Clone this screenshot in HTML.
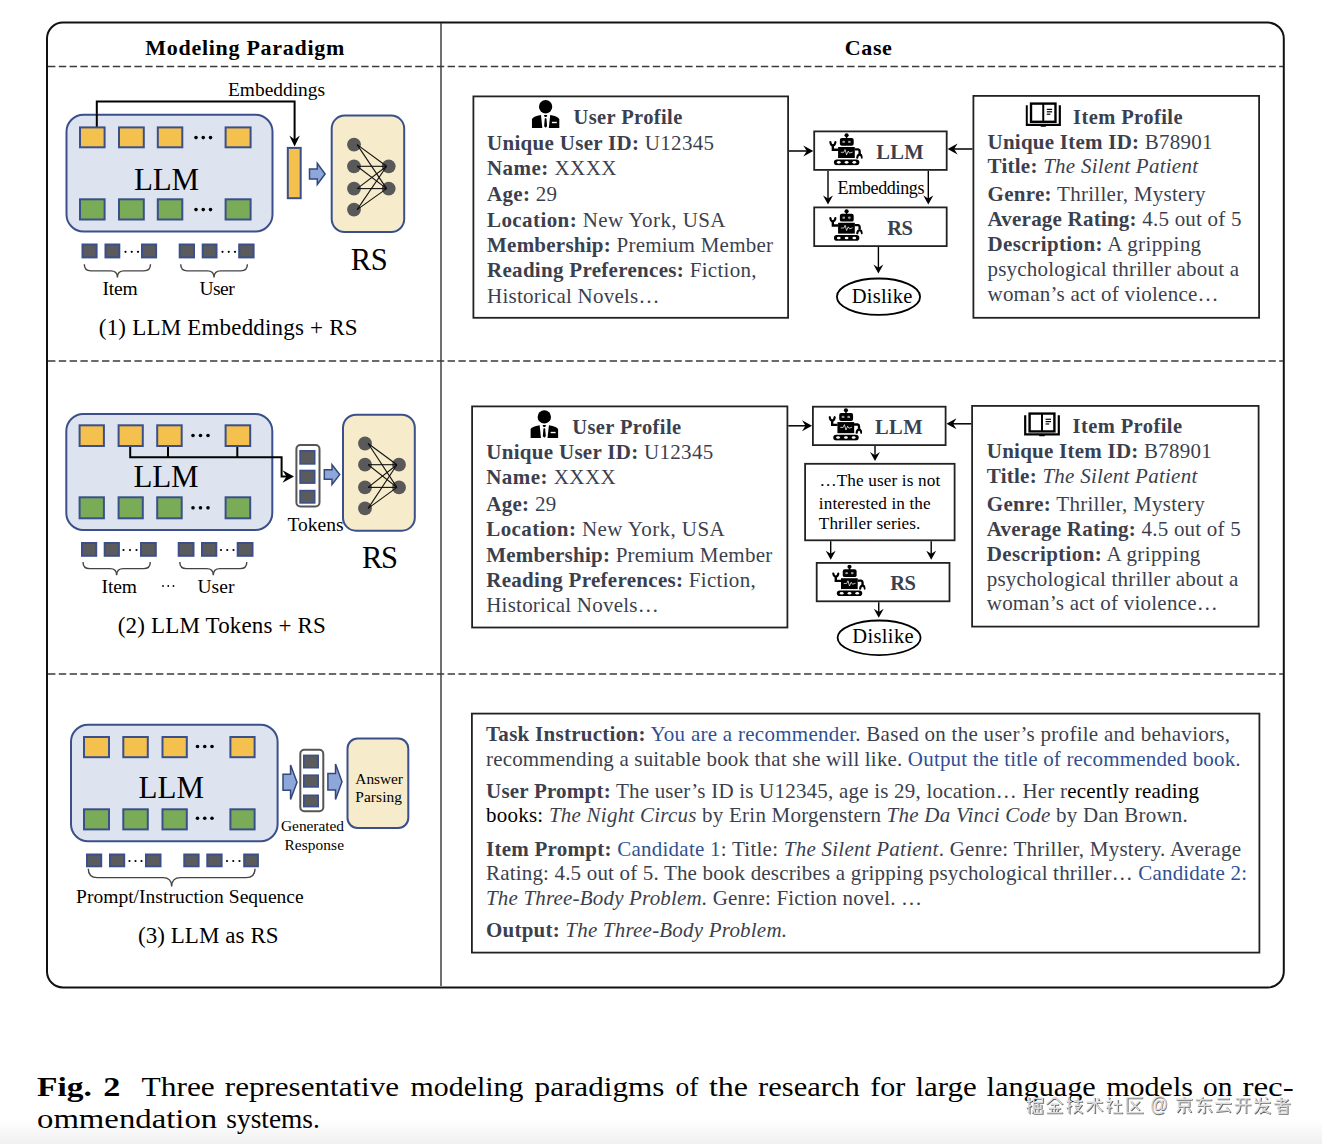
<!DOCTYPE html><html><head><meta charset="utf-8"><style>html,body{margin:0;padding:0;background:#fff;}svg{display:block}</style></head><body>
<svg width="1322" height="1144" viewBox="0 0 1322 1144">
<defs><linearGradient id="bg" x1="0" y1="0" x2="0" y2="1"><stop offset="0" stop-color="#fff"/><stop offset="0.45" stop-color="#f8f8f8"/><stop offset="1" stop-color="#f1f1f1"/></linearGradient></defs>
<rect x="0" y="0" width="1322" height="1144" fill="#fff"/>
<rect x="0" y="1120" width="1322" height="24" fill="url(#bg)"/>
<rect x="47" y="22.5" width="1236.8" height="965" rx="16" fill="none" stroke="#111" stroke-width="2"/>
<line x1="441" y1="23" x2="441" y2="986" stroke="#333" stroke-width="1.4"/>
<line x1="48" y1="66.5" x2="1283" y2="66.5" stroke="#3a3a3a" stroke-width="1.3" stroke-dasharray="7.4,3.4"/>
<line x1="48" y1="361" x2="1283" y2="361" stroke="#3a3a3a" stroke-width="1.3" stroke-dasharray="7.4,3.4"/>
<line x1="48" y1="674" x2="1283" y2="674" stroke="#3a3a3a" stroke-width="1.3" stroke-dasharray="7.4,3.4"/>
<text x="145.3" y="55" font-family="Liberation Serif" font-size="22" font-weight="bold" font-style="normal" fill="#000" textLength="199" lengthAdjust="spacing" >Modeling Paradigm</text>
<text x="844.8" y="54.5" font-family="Liberation Serif" font-size="22" font-weight="bold" font-style="normal" fill="#000" textLength="47" lengthAdjust="spacing" >Case</text>
<polyline points="96.8,127 96.8,101.6 294.6,101.6 294.6,140" fill="none" stroke="#000" stroke-width="2"/>
<polygon points="294.60,146.60 289.32,135.60 294.60,139.45 299.88,135.60" fill="#000"/>
<text x="228" y="96" font-family="Liberation Serif" font-size="19.4" font-weight="normal" font-style="normal" fill="#000" textLength="97" lengthAdjust="spacing" >Embeddings</text>
<rect x="66.50" y="114.80" width="206.00" height="116.70" rx="17" fill="#dde4ef" stroke="#3b508a" stroke-width="2" />
<line x1="96.8" y1="114" x2="96.8" y2="127" stroke="#000" stroke-width="2"/>
<rect x="80.00" y="127.40" width="24.60" height="19.90" rx="0" fill="#f4c04e" stroke="#3b508a" stroke-width="2" />
<rect x="119.00" y="127.40" width="24.80" height="19.90" rx="0" fill="#f4c04e" stroke="#3b508a" stroke-width="2" />
<rect x="157.80" y="127.40" width="24.50" height="19.90" rx="0" fill="#f4c04e" stroke="#3b508a" stroke-width="2" />
<rect x="225.60" y="127.40" width="25.00" height="19.90" rx="0" fill="#f4c04e" stroke="#3b508a" stroke-width="2" />
<rect x="80.00" y="199.30" width="24.60" height="20.20" rx="0" fill="#7aab57" stroke="#3b508a" stroke-width="2" />
<rect x="119.00" y="199.30" width="24.80" height="20.20" rx="0" fill="#7aab57" stroke="#3b508a" stroke-width="2" />
<rect x="157.80" y="199.30" width="24.50" height="20.20" rx="0" fill="#7aab57" stroke="#3b508a" stroke-width="2" />
<rect x="225.60" y="199.30" width="25.00" height="20.20" rx="0" fill="#7aab57" stroke="#3b508a" stroke-width="2" />
<circle cx="196.00" cy="137.6" r="1.8" fill="#000"/>
<circle cx="203.25" cy="137.6" r="1.8" fill="#000"/>
<circle cx="210.50" cy="137.6" r="1.8" fill="#000"/>
<circle cx="196.00" cy="209.6" r="1.8" fill="#000"/>
<circle cx="203.25" cy="209.6" r="1.8" fill="#000"/>
<circle cx="210.50" cy="209.6" r="1.8" fill="#000"/>
<text x="134" y="190" font-family="Liberation Serif" font-size="31" font-weight="normal" font-style="normal" fill="#000" textLength="65" lengthAdjust="spacing" >LLM</text>
<rect x="82.50" y="244.50" width="14.10" height="12.90" rx="0" fill="#5b5b5e" stroke="#3b508a" stroke-width="2" />
<rect x="105.50" y="244.50" width="13.80" height="12.90" rx="0" fill="#5b5b5e" stroke="#3b508a" stroke-width="2" />
<rect x="142.00" y="244.50" width="14.10" height="12.90" rx="0" fill="#5b5b5e" stroke="#3b508a" stroke-width="2" />
<rect x="179.70" y="244.50" width="14.30" height="12.90" rx="0" fill="#5b5b5e" stroke="#3b508a" stroke-width="2" />
<rect x="202.70" y="244.50" width="13.80" height="12.90" rx="0" fill="#5b5b5e" stroke="#3b508a" stroke-width="2" />
<rect x="239.20" y="244.50" width="14.40" height="12.90" rx="0" fill="#5b5b5e" stroke="#3b508a" stroke-width="2" />
<circle cx="125.50" cy="251.8" r="1.1" fill="#000"/>
<circle cx="131.75" cy="251.8" r="1.1" fill="#000"/>
<circle cx="138.00" cy="251.8" r="1.1" fill="#000"/>
<circle cx="222.50" cy="251.8" r="1.1" fill="#000"/>
<circle cx="228.75" cy="251.8" r="1.1" fill="#000"/>
<circle cx="235.00" cy="251.8" r="1.1" fill="#000"/>
<path d="M84.3,264.3 Q84.3,270.9 90.89999999999999,270.9 L110.80000000000001,270.9 Q117.4,270.9 117.4,277.5 Q117.4,270.9 124.0,270.9 L143.9,270.9 Q150.5,270.9 150.5,264.3" fill="none" stroke="#444" stroke-width="1.4"/>
<path d="M180.7,264.3 Q180.7,270.9 187.29999999999998,270.9 L207.45000000000002,270.9 Q214.05,270.9 214.05,277.5 Q214.05,270.9 220.65,270.9 L240.8,270.9 Q247.4,270.9 247.4,264.3" fill="none" stroke="#444" stroke-width="1.4"/>
<text x="102.5" y="294.7" font-family="Liberation Serif" font-size="19.5" font-weight="normal" font-style="normal" fill="#000" textLength="35.1" lengthAdjust="spacing" >Item</text>
<text x="199.4" y="294.7" font-family="Liberation Serif" font-size="19.5" font-weight="normal" font-style="normal" fill="#000" textLength="35.3" lengthAdjust="spacing" >User</text>
<rect x="287.80" y="147.90" width="12.90" height="50.30" rx="0" fill="#f4c04e" stroke="#3b508a" stroke-width="2" />
<path d="M309.5,168.886 L317.3,168.886 L317.3,163.4 L325.1,173.95 L317.3,184.5 L317.3,179.01399999999998 L309.5,179.01399999999998 Z" fill="#8ea7da" stroke="#34477a" stroke-width="1.5" stroke-linejoin="miter"/>
<rect x="331.70" y="115.60" width="72.50" height="116.40" rx="13" fill="#f6ebca" stroke="#3b508a" stroke-width="2" />
<circle cx="354" cy="144.6" r="6.9" fill="#595959"/>
<circle cx="354" cy="166.3" r="6.9" fill="#595959"/>
<circle cx="354" cy="188.6" r="6.9" fill="#595959"/>
<circle cx="354" cy="209.6" r="6.9" fill="#595959"/>
<circle cx="388.7" cy="166.3" r="6.9" fill="#595959"/>
<circle cx="388.7" cy="188.6" r="6.9" fill="#595959"/>
<line x1="357.105" y1="144.6" x2="386.63" y2="166.3" stroke="#111" stroke-width="1.1"/>
<line x1="357.105" y1="144.6" x2="386.63" y2="188.6" stroke="#111" stroke-width="1.1"/>
<line x1="357.105" y1="166.3" x2="386.63" y2="166.3" stroke="#111" stroke-width="1.1"/>
<line x1="357.105" y1="166.3" x2="386.63" y2="188.6" stroke="#111" stroke-width="1.1"/>
<line x1="357.105" y1="188.6" x2="386.63" y2="166.3" stroke="#111" stroke-width="1.1"/>
<line x1="357.105" y1="188.6" x2="386.63" y2="188.6" stroke="#111" stroke-width="1.1"/>
<line x1="357.105" y1="209.6" x2="386.63" y2="166.3" stroke="#111" stroke-width="1.1"/>
<line x1="357.105" y1="209.6" x2="386.63" y2="188.6" stroke="#111" stroke-width="1.1"/>
<text x="350.8" y="270.2" font-family="Liberation Serif" font-size="30.5" font-weight="normal" font-style="normal" fill="#000" textLength="36.8" lengthAdjust="spacing" >RS</text>
<text x="98.8" y="335" font-family="Liberation Serif" font-size="23" font-weight="normal" font-style="normal" fill="#000" textLength="258.7" lengthAdjust="spacing" >(1) LLM Embeddings + RS</text>
<rect x="66.30" y="414.00" width="206.00" height="116.00" rx="17" fill="#dde4ef" stroke="#3b508a" stroke-width="2" />
<rect x="79.60" y="425.30" width="24.30" height="20.70" rx="0" fill="#f4c04e" stroke="#3b508a" stroke-width="2" />
<rect x="118.60" y="425.30" width="24.20" height="20.70" rx="0" fill="#f4c04e" stroke="#3b508a" stroke-width="2" />
<rect x="157.20" y="425.30" width="24.50" height="20.70" rx="0" fill="#f4c04e" stroke="#3b508a" stroke-width="2" />
<rect x="225.60" y="425.30" width="24.60" height="20.70" rx="0" fill="#f4c04e" stroke="#3b508a" stroke-width="2" />
<rect x="79.60" y="497.30" width="24.30" height="21.00" rx="0" fill="#7aab57" stroke="#3b508a" stroke-width="2" />
<rect x="118.60" y="497.30" width="24.20" height="21.00" rx="0" fill="#7aab57" stroke="#3b508a" stroke-width="2" />
<rect x="157.20" y="497.30" width="24.50" height="21.00" rx="0" fill="#7aab57" stroke="#3b508a" stroke-width="2" />
<rect x="225.60" y="497.30" width="24.60" height="21.00" rx="0" fill="#7aab57" stroke="#3b508a" stroke-width="2" />
<circle cx="193.00" cy="435.5" r="1.8" fill="#000"/>
<circle cx="200.50" cy="435.5" r="1.8" fill="#000"/>
<circle cx="208.00" cy="435.5" r="1.8" fill="#000"/>
<circle cx="193.00" cy="507.8" r="1.8" fill="#000"/>
<circle cx="200.50" cy="507.8" r="1.8" fill="#000"/>
<circle cx="208.00" cy="507.8" r="1.8" fill="#000"/>
<text x="133.5" y="487.4" font-family="Liberation Serif" font-size="31" font-weight="normal" font-style="normal" fill="#000" textLength="65" lengthAdjust="spacing" >LLM</text>
<polyline points="130.2,447 130.2,457.3 281.6,457.3 281.6,476.5 287,476.5" fill="none" stroke="#000" stroke-width="2"/>
<line x1="168" y1="447" x2="168" y2="457.3" stroke="#000" stroke-width="2"/>
<line x1="237.3" y1="447" x2="237.3" y2="457.3" stroke="#000" stroke-width="2"/>
<polygon points="294.00,476.50 282.50,470.18 286.52,476.50 282.50,482.82" fill="#000"/>
<rect x="296.40" y="445.00" width="23.10" height="61.50" rx="4" fill="#fff" stroke="#555" stroke-width="2" />
<rect x="300.10" y="450.80" width="14.60" height="13.10" rx="0" fill="#5b5b5e" stroke="#3b508a" stroke-width="1.6" />
<rect x="300.10" y="470.50" width="14.60" height="12.60" rx="0" fill="#5b5b5e" stroke="#3b508a" stroke-width="1.6" />
<rect x="300.10" y="490.60" width="14.60" height="12.30" rx="0" fill="#5b5b5e" stroke="#3b508a" stroke-width="1.6" />
<path d="M324.3,469.848 L332.0,469.848 L332.0,464.7 L339.7,474.6 L332.0,484.5 L332.0,479.35200000000003 L324.3,479.35200000000003 Z" fill="#8ea7da" stroke="#34477a" stroke-width="1.5" stroke-linejoin="miter"/>
<rect x="343.00" y="414.70" width="71.80" height="116.00" rx="13" fill="#f6ebca" stroke="#3b508a" stroke-width="2" />
<circle cx="365" cy="443.5" r="6.9" fill="#595959"/>
<circle cx="365" cy="464.7" r="6.9" fill="#595959"/>
<circle cx="365" cy="487.4" r="6.9" fill="#595959"/>
<circle cx="365" cy="508.4" r="6.9" fill="#595959"/>
<circle cx="399" cy="464.7" r="6.9" fill="#595959"/>
<circle cx="399" cy="487.4" r="6.9" fill="#595959"/>
<line x1="368.105" y1="443.5" x2="396.93" y2="464.7" stroke="#111" stroke-width="1.1"/>
<line x1="368.105" y1="443.5" x2="396.93" y2="487.4" stroke="#111" stroke-width="1.1"/>
<line x1="368.105" y1="464.7" x2="396.93" y2="464.7" stroke="#111" stroke-width="1.1"/>
<line x1="368.105" y1="464.7" x2="396.93" y2="487.4" stroke="#111" stroke-width="1.1"/>
<line x1="368.105" y1="487.4" x2="396.93" y2="464.7" stroke="#111" stroke-width="1.1"/>
<line x1="368.105" y1="487.4" x2="396.93" y2="487.4" stroke="#111" stroke-width="1.1"/>
<line x1="368.105" y1="508.4" x2="396.93" y2="464.7" stroke="#111" stroke-width="1.1"/>
<line x1="368.105" y1="508.4" x2="396.93" y2="487.4" stroke="#111" stroke-width="1.1"/>
<text x="287.5" y="531" font-family="Liberation Serif" font-size="19.5" font-weight="normal" font-style="normal" fill="#000" textLength="56" lengthAdjust="spacing" >Tokens</text>
<rect x="82.00" y="543.00" width="14.20" height="12.80" rx="0" fill="#5b5b5e" stroke="#3b508a" stroke-width="2" />
<rect x="104.70" y="543.00" width="14.20" height="12.80" rx="0" fill="#5b5b5e" stroke="#3b508a" stroke-width="2" />
<rect x="141.00" y="543.00" width="14.80" height="12.80" rx="0" fill="#5b5b5e" stroke="#3b508a" stroke-width="2" />
<rect x="178.70" y="543.00" width="14.80" height="12.80" rx="0" fill="#5b5b5e" stroke="#3b508a" stroke-width="2" />
<rect x="202.00" y="543.00" width="14.30" height="12.80" rx="0" fill="#5b5b5e" stroke="#3b508a" stroke-width="2" />
<rect x="237.70" y="543.00" width="14.80" height="12.80" rx="0" fill="#5b5b5e" stroke="#3b508a" stroke-width="2" />
<circle cx="123.50" cy="550" r="1.1" fill="#000"/>
<circle cx="130.00" cy="550" r="1.1" fill="#000"/>
<circle cx="136.50" cy="550" r="1.1" fill="#000"/>
<circle cx="221.00" cy="550" r="1.1" fill="#000"/>
<circle cx="227.25" cy="550" r="1.1" fill="#000"/>
<circle cx="233.50" cy="550" r="1.1" fill="#000"/>
<path d="M83,562 Q83,568.65 89.64999999999998,568.65 L110.00000000000003,568.65 Q116.65,568.65 116.65,575.3 Q116.65,568.65 123.29999999999998,568.65 L143.65000000000003,568.65 Q150.3,568.65 150.3,562" fill="none" stroke="#444" stroke-width="1.4"/>
<path d="M179.8,562 Q179.8,568.65 186.45,568.65 L206.65000000000003,568.65 Q213.3,568.65 213.3,575.3 Q213.3,568.65 219.95,568.65 L240.15000000000003,568.65 Q246.8,568.65 246.8,562" fill="none" stroke="#444" stroke-width="1.4"/>
<text x="101.6" y="593" font-family="Liberation Serif" font-size="19.5" font-weight="normal" font-style="normal" fill="#000" textLength="35.4" lengthAdjust="spacing" >Item</text>
<circle cx="163.00" cy="586" r="0.9" fill="#000"/>
<circle cx="168.25" cy="586" r="0.9" fill="#000"/>
<circle cx="173.50" cy="586" r="0.9" fill="#000"/>
<text x="197.5" y="593" font-family="Liberation Serif" font-size="19.5" font-weight="normal" font-style="normal" fill="#000" textLength="36.9" lengthAdjust="spacing" >User</text>
<text x="362" y="568" font-family="Liberation Serif" font-size="30.5" font-weight="normal" font-style="normal" fill="#000" textLength="36" lengthAdjust="spacing" >RS</text>
<text x="117.8" y="633" font-family="Liberation Serif" font-size="23" font-weight="normal" font-style="normal" fill="#000" textLength="208" lengthAdjust="spacing" >(2) LLM Tokens + RS</text>
<rect x="71.00" y="724.70" width="206.60" height="116.50" rx="17" fill="#dde4ef" stroke="#3b508a" stroke-width="2" />
<rect x="84.00" y="737.00" width="25.00" height="20.20" rx="0" fill="#f4c04e" stroke="#3b508a" stroke-width="2" />
<rect x="123.30" y="737.00" width="24.50" height="20.20" rx="0" fill="#f4c04e" stroke="#3b508a" stroke-width="2" />
<rect x="162.50" y="737.00" width="24.30" height="20.20" rx="0" fill="#f4c04e" stroke="#3b508a" stroke-width="2" />
<rect x="230.40" y="737.00" width="24.20" height="20.20" rx="0" fill="#f4c04e" stroke="#3b508a" stroke-width="2" />
<rect x="84.00" y="809.30" width="25.00" height="20.10" rx="0" fill="#7aab57" stroke="#3b508a" stroke-width="2" />
<rect x="123.30" y="809.30" width="24.50" height="20.10" rx="0" fill="#7aab57" stroke="#3b508a" stroke-width="2" />
<rect x="162.50" y="809.30" width="24.30" height="20.10" rx="0" fill="#7aab57" stroke="#3b508a" stroke-width="2" />
<rect x="230.40" y="809.30" width="24.20" height="20.10" rx="0" fill="#7aab57" stroke="#3b508a" stroke-width="2" />
<circle cx="197.50" cy="746.5" r="1.8" fill="#000"/>
<circle cx="204.75" cy="746.5" r="1.8" fill="#000"/>
<circle cx="212.00" cy="746.5" r="1.8" fill="#000"/>
<circle cx="197.50" cy="818.3" r="1.8" fill="#000"/>
<circle cx="204.75" cy="818.3" r="1.8" fill="#000"/>
<circle cx="212.00" cy="818.3" r="1.8" fill="#000"/>
<text x="138.5" y="798" font-family="Liberation Serif" font-size="31" font-weight="normal" font-style="normal" fill="#000" textLength="65.5" lengthAdjust="spacing" >LLM</text>
<rect x="87.00" y="854.50" width="14.20" height="11.80" rx="0" fill="#5b5b5e" stroke="#3b508a" stroke-width="2" />
<rect x="110.00" y="854.50" width="14.20" height="11.80" rx="0" fill="#5b5b5e" stroke="#3b508a" stroke-width="2" />
<rect x="146.00" y="854.50" width="14.50" height="11.80" rx="0" fill="#5b5b5e" stroke="#3b508a" stroke-width="2" />
<rect x="184.30" y="854.50" width="14.30" height="11.80" rx="0" fill="#5b5b5e" stroke="#3b508a" stroke-width="2" />
<rect x="207.30" y="854.50" width="14.30" height="11.80" rx="0" fill="#5b5b5e" stroke="#3b508a" stroke-width="2" />
<rect x="244.20" y="854.50" width="13.70" height="11.80" rx="0" fill="#5b5b5e" stroke="#3b508a" stroke-width="2" />
<circle cx="129.50" cy="861" r="1.1" fill="#000"/>
<circle cx="135.50" cy="861" r="1.1" fill="#000"/>
<circle cx="141.50" cy="861" r="1.1" fill="#000"/>
<circle cx="227.00" cy="861" r="1.1" fill="#000"/>
<circle cx="233.25" cy="861" r="1.1" fill="#000"/>
<circle cx="239.50" cy="861" r="1.1" fill="#000"/>
<path d="M88.3,868.8 Q88.3,877.65 97.15000000000002,877.65 L162.79999999999998,877.65 Q171.65,877.65 171.65,886.5 Q171.65,877.65 180.50000000000003,877.65 L246.14999999999998,877.65 Q255,877.65 255,868.8" fill="none" stroke="#444" stroke-width="1.4"/>
<text x="76" y="902.7" font-family="Liberation Serif" font-size="19.5" font-weight="normal" font-style="normal" fill="#000" textLength="227.7" lengthAdjust="spacing" >Prompt/Instruction Sequence</text>
<text x="137.9" y="942.5" font-family="Liberation Serif" font-size="23" font-weight="normal" font-style="normal" fill="#000" textLength="140.7" lengthAdjust="spacing" >(3) LLM as RS</text>
<path d="M283,774.1425 L290.56,774.1425 L290.56,765 L297,782.25 L290.56,799.5 L290.56,790.3575 L283,790.3575 Z" fill="#8ea7da" stroke="#34477a" stroke-width="1.5" stroke-linejoin="miter"/>
<rect x="300.30" y="749.70" width="23.00" height="61.50" rx="4" fill="#fff" stroke="#555" stroke-width="2" />
<rect x="303.80" y="755.40" width="14.40" height="12.30" rx="0" fill="#5b5b5e" stroke="#3b508a" stroke-width="1.6" />
<rect x="303.80" y="775.20" width="14.40" height="11.70" rx="0" fill="#5b5b5e" stroke="#3b508a" stroke-width="1.6" />
<rect x="303.80" y="795.30" width="14.40" height="11.30" rx="0" fill="#5b5b5e" stroke="#3b508a" stroke-width="1.6" />
<path d="M327.9,773.4075 L335.514,773.4075 L335.514,764 L342,781.75 L335.514,799.5 L335.514,790.0925 L327.9,790.0925 Z" fill="#8ea7da" stroke="#34477a" stroke-width="1.5" stroke-linejoin="miter"/>
<rect x="347.50" y="738.50" width="60.80" height="89.50" rx="10" fill="#f6ebca" stroke="#3b508a" stroke-width="2" />
<text x="355.3" y="783.8" font-family="Liberation Serif" font-size="15.4" font-weight="normal" font-style="normal" fill="#000" textLength="47.7" lengthAdjust="spacing" >Answer</text>
<text x="355.3" y="802.4" font-family="Liberation Serif" font-size="15.4" font-weight="normal" font-style="normal" fill="#000" textLength="46.7" lengthAdjust="spacing" >Parsing</text>
<text x="281" y="831" font-family="Liberation Serif" font-size="15.4" font-weight="normal" font-style="normal" fill="#000" textLength="63" lengthAdjust="spacing" >Generated</text>
<text x="284.5" y="849.6" font-family="Liberation Serif" font-size="15.4" font-weight="normal" font-style="normal" fill="#000" textLength="59.5" lengthAdjust="spacing" >Response</text>
<rect x="473.40" y="96.40" width="314.70" height="221.40" rx="0" fill="#fff" stroke="#222" stroke-width="1.8" />
<svg x="531.8" y="99.8" width="28.0" height="28.200000000000003" viewBox="0 0 28 28.2" preserveAspectRatio="none"><circle cx="13.8" cy="6.95" r="6.65" fill="#000"/><path d="M9.2,15.3 L10.5,28.2 L0,28.2 L0,19.7 Q1,16.4 9.2,15.3 Z" fill="#000"/><path d="M18.4,15.3 L17,28.2 L27.6,28.2 L27.6,19.7 Q26.6,16.4 18.4,15.3 Z" fill="#000"/><path d="M12.1,15.2 L15.5,15.2 L14.7,17.1 L12.9,17.1 Z" fill="#000"/><path d="M13,18.4 L14.6,18.4 L15.3,26.4 L13.8,28 L12.3,26.4 Z" fill="#000"/><rect x="20.1" y="22" width="4.9" height="1.4" fill="#fff"/></svg>
<text x="573.5" y="123.5" font-family="Liberation Serif" font-size="20.5" font-weight="bold" font-style="normal" fill="#3b3f4e" textLength="108.8" lengthAdjust="spacing" >User Profile</text>
<text x="487" y="150" font-family="Liberation Serif" font-size="21" fill="#3b3f4e" textLength="227" lengthAdjust="spacing"><tspan font-weight="bold">Unique User ID:</tspan> U12345</text>
<text x="487" y="175.2" font-family="Liberation Serif" font-size="21" fill="#3b3f4e" textLength="129.5" lengthAdjust="spacing"><tspan font-weight="bold">Name:</tspan> XXXX</text>
<text x="487" y="201" font-family="Liberation Serif" font-size="21" fill="#3b3f4e" textLength="70" lengthAdjust="spacing"><tspan font-weight="bold">Age:</tspan> 29</text>
<text x="487" y="226.6" font-family="Liberation Serif" font-size="21" fill="#3b3f4e" textLength="238.5" lengthAdjust="spacing"><tspan font-weight="bold">Location:</tspan> New York, USA</text>
<text x="487" y="252" font-family="Liberation Serif" font-size="21" fill="#3b3f4e" textLength="286" lengthAdjust="spacing"><tspan font-weight="bold">Membership:</tspan> Premium Member</text>
<text x="487" y="277.4" font-family="Liberation Serif" font-size="21" fill="#3b3f4e" textLength="269.5" lengthAdjust="spacing"><tspan font-weight="bold">Reading Preferences:</tspan> Fiction,</text>
<text x="487" y="302.6" font-family="Liberation Serif" font-size="21" fill="#3b3f4e" textLength="172.5" lengthAdjust="spacing">Historical Novels…</text>
<rect x="973.40" y="95.90" width="285.70" height="221.90" rx="0" fill="#fff" stroke="#222" stroke-width="1.8" />
<svg x="1025.5" y="102" width="35.5" height="26" viewBox="0 0 36 26" preserveAspectRatio="none"><path d="M1.2,3.2 L1.2,22.8 L34.8,22.8 L34.8,3.2" fill="none" stroke="#000" stroke-width="2.2"/><rect x="5.6" y="1.6" width="24.8" height="18.2" fill="none" stroke="#000" stroke-width="2.4"/><line x1="18" y1="1.6" x2="18" y2="19.8" stroke="#000" stroke-width="2"/><path d="M14.5,22.8 L15.5,24.8 L20.5,24.8 L21.5,22.8 Z" fill="#000"/><rect x="21.6" y="6.8" width="5.4" height="1.2" fill="#000"/><rect x="21.6" y="9.2" width="5.4" height="1.2" fill="#000"/><rect x="21.6" y="11.6" width="3.6" height="1.2" fill="#000"/></svg>
<text x="1073" y="123.75" font-family="Liberation Serif" font-size="20.5" font-weight="bold" font-style="normal" fill="#3b3f4e" textLength="109.5" lengthAdjust="spacing" >Item Profile</text>
<text x="987.5" y="148.75" font-family="Liberation Serif" font-size="21" fill="#3b3f4e" textLength="225" lengthAdjust="spacing"><tspan font-weight="bold">Unique Item ID:</tspan> B78901</text>
<text x="987.5" y="173" font-family="Liberation Serif" font-size="21" fill="#3b3f4e" textLength="210.5" lengthAdjust="spacing"><tspan font-weight="bold">Title:</tspan> <tspan font-style='italic'>The Silent Patient</tspan></text>
<text x="987.5" y="201.25" font-family="Liberation Serif" font-size="21" fill="#3b3f4e" textLength="218" lengthAdjust="spacing"><tspan font-weight="bold">Genre:</tspan> Thriller, Mystery</text>
<text x="987.5" y="226.25" font-family="Liberation Serif" font-size="21" fill="#3b3f4e" textLength="254" lengthAdjust="spacing"><tspan font-weight="bold">Average Rating:</tspan> 4.5 out of 5</text>
<text x="987.5" y="251.25" font-family="Liberation Serif" font-size="21" fill="#3b3f4e" textLength="213.5" lengthAdjust="spacing"><tspan font-weight="bold">Description:</tspan> A gripping</text>
<text x="987.5" y="276.25" font-family="Liberation Serif" font-size="21" fill="#3b3f4e" textLength="251.5" lengthAdjust="spacing">psychological thriller about a</text>
<text x="987.5" y="301.25" font-family="Liberation Serif" font-size="21" fill="#3b3f4e" textLength="231" lengthAdjust="spacing">woman’s act of violence…</text>
<line x1="789" y1="151" x2="807.3" y2="151" stroke="#000" stroke-width="1.5"/>
<polygon points="813.30,151.00 803.30,145.50 806.80,151.00 803.30,156.50" fill="#000"/>
<line x1="972.5" y1="149" x2="953.6" y2="149" stroke="#000" stroke-width="1.5"/>
<polygon points="947.60,149.00 957.60,143.50 954.10,149.00 957.60,154.50" fill="#000"/>
<rect x="814.20" y="131.40" width="132.50" height="38.50" rx="0" fill="#fff" stroke="#222" stroke-width="1.8" />
<svg x="829" y="133" width="33.60000000000002" height="32.5" viewBox="0 0 34 33" preserveAspectRatio="none"><circle cx="17.8" cy="2.3" r="2.1" fill="#000"/><rect x="17.1" y="3" width="1.4" height="3" fill="#000"/><rect x="11" y="5" width="14" height="8" rx="2" fill="#000"/><ellipse cx="14.9" cy="9" rx="1.5" ry="1.2" fill="#999"/><ellipse cx="20.6" cy="9" rx="1.5" ry="1.2" fill="#999"/><rect x="9.2" y="14.2" width="16.9" height="11.2" fill="#000"/><path d="M12,19.6 L15,19.6 L16.3,16.8 L17.8,22.2 L19.5,18.4 L20.8,20.4 L23.9,19.4" fill="none" stroke="#fff" stroke-width="0.75"/><path d="M9.4,17 L3.9,17 L3.9,12" fill="none" stroke="#000" stroke-width="2.4"/><path d="M1.4,9.3 Q1.8,12.6 3.9,12.6 Q6,12.6 6.5,9.3" fill="none" stroke="#000" stroke-width="2.2" stroke-linecap="round"/><path d="M25.9,16.6 L29.6,16.6 Q31,16.8 31,18.6 L31,21.2" fill="none" stroke="#000" stroke-width="2.4"/><path d="M28.6,25 Q29,21.9 31,21.9 Q33,21.9 33.4,25" fill="none" stroke="#000" stroke-width="2.2" stroke-linecap="round"/><rect x="5" y="26.9" width="25.7" height="5.8" rx="2.9" fill="#000"/><ellipse cx="9.9" cy="29.8" rx="1.9" ry="1.3" fill="#fff"/><ellipse cx="17.8" cy="29.8" rx="1.9" ry="1.3" fill="#fff"/><ellipse cx="25.6" cy="29.8" rx="1.9" ry="1.3" fill="#fff"/></svg>
<text x="876.3" y="158.8" font-family="Liberation Serif" font-size="20.5" font-weight="bold" font-style="normal" fill="#3b3f4e" textLength="47.2" lengthAdjust="spacing" >LLM</text>
<line x1="828" y1="170.8" x2="828" y2="199.0" stroke="#000" stroke-width="1.4"/>
<polygon points="828.00,204.40 823.05,195.40 828.00,198.55 832.95,195.40" fill="#000"/>
<line x1="928.3" y1="170.8" x2="928.3" y2="199.0" stroke="#000" stroke-width="1.4"/>
<polygon points="928.30,204.40 923.35,195.40 928.30,198.55 933.25,195.40" fill="#000"/>
<text x="837.5" y="194.3" font-family="Liberation Serif" font-size="18" font-weight="normal" font-style="normal" fill="#000" textLength="87" lengthAdjust="spacing" >Embeddings</text>
<rect x="814.20" y="207.40" width="132.50" height="38.70" rx="0" fill="#fff" stroke="#222" stroke-width="1.8" />
<svg x="829" y="209" width="33.60000000000002" height="32" viewBox="0 0 34 33" preserveAspectRatio="none"><circle cx="17.8" cy="2.3" r="2.1" fill="#000"/><rect x="17.1" y="3" width="1.4" height="3" fill="#000"/><rect x="11" y="5" width="14" height="8" rx="2" fill="#000"/><ellipse cx="14.9" cy="9" rx="1.5" ry="1.2" fill="#999"/><ellipse cx="20.6" cy="9" rx="1.5" ry="1.2" fill="#999"/><rect x="9.2" y="14.2" width="16.9" height="11.2" fill="#000"/><path d="M12,19.6 L15,19.6 L16.3,16.8 L17.8,22.2 L19.5,18.4 L20.8,20.4 L23.9,19.4" fill="none" stroke="#fff" stroke-width="0.75"/><path d="M9.4,17 L3.9,17 L3.9,12" fill="none" stroke="#000" stroke-width="2.4"/><path d="M1.4,9.3 Q1.8,12.6 3.9,12.6 Q6,12.6 6.5,9.3" fill="none" stroke="#000" stroke-width="2.2" stroke-linecap="round"/><path d="M25.9,16.6 L29.6,16.6 Q31,16.8 31,18.6 L31,21.2" fill="none" stroke="#000" stroke-width="2.4"/><path d="M28.6,25 Q29,21.9 31,21.9 Q33,21.9 33.4,25" fill="none" stroke="#000" stroke-width="2.2" stroke-linecap="round"/><rect x="5" y="26.9" width="25.7" height="5.8" rx="2.9" fill="#000"/><ellipse cx="9.9" cy="29.8" rx="1.9" ry="1.3" fill="#fff"/><ellipse cx="17.8" cy="29.8" rx="1.9" ry="1.3" fill="#fff"/><ellipse cx="25.6" cy="29.8" rx="1.9" ry="1.3" fill="#fff"/></svg>
<text x="887.2" y="234.8" font-family="Liberation Serif" font-size="20.5" font-weight="bold" font-style="normal" fill="#3b3f4e" textLength="25.8" lengthAdjust="spacing" >RS</text>
<line x1="878.4" y1="247" x2="878.4" y2="268.20000000000005" stroke="#000" stroke-width="1.4"/>
<polygon points="878.40,273.60 873.45,264.60 878.40,267.75 883.35,264.60" fill="#000"/>
<ellipse cx="878.5" cy="296.7" rx="41.6" ry="18.2" fill="#fff" stroke="#000" stroke-width="1.8"/>
<text x="851.7" y="303" font-family="Liberation Serif" font-size="20.5" font-weight="normal" font-style="normal" fill="#000" textLength="60.7" lengthAdjust="spacing" >Dislike</text>
<rect x="472.10" y="406.40" width="315.30" height="221.10" rx="0" fill="#fff" stroke="#222" stroke-width="1.8" />
<svg x="530.4" y="410" width="28.200000000000045" height="28" viewBox="0 0 28 28.2" preserveAspectRatio="none"><circle cx="13.8" cy="6.95" r="6.65" fill="#000"/><path d="M9.2,15.3 L10.5,28.2 L0,28.2 L0,19.7 Q1,16.4 9.2,15.3 Z" fill="#000"/><path d="M18.4,15.3 L17,28.2 L27.6,28.2 L27.6,19.7 Q26.6,16.4 18.4,15.3 Z" fill="#000"/><path d="M12.1,15.2 L15.5,15.2 L14.7,17.1 L12.9,17.1 Z" fill="#000"/><path d="M13,18.4 L14.6,18.4 L15.3,26.4 L13.8,28 L12.3,26.4 Z" fill="#000"/><rect x="20.1" y="22" width="4.9" height="1.4" fill="#fff"/></svg>
<text x="572.3" y="433.7" font-family="Liberation Serif" font-size="20.5" font-weight="bold" font-style="normal" fill="#3b3f4e" textLength="108.8" lengthAdjust="spacing" >User Profile</text>
<text x="486.2" y="458.7" font-family="Liberation Serif" font-size="21" fill="#3b3f4e" textLength="227" lengthAdjust="spacing"><tspan font-weight="bold">Unique User ID:</tspan> U12345</text>
<text x="486.2" y="484.1" font-family="Liberation Serif" font-size="21" fill="#3b3f4e" textLength="129.5" lengthAdjust="spacing"><tspan font-weight="bold">Name:</tspan> XXXX</text>
<text x="486.2" y="510.5" font-family="Liberation Serif" font-size="21" fill="#3b3f4e" textLength="70" lengthAdjust="spacing"><tspan font-weight="bold">Age:</tspan> 29</text>
<text x="486.2" y="536.3" font-family="Liberation Serif" font-size="21" fill="#3b3f4e" textLength="238.5" lengthAdjust="spacing"><tspan font-weight="bold">Location:</tspan> New York, USA</text>
<text x="486.2" y="561.7" font-family="Liberation Serif" font-size="21" fill="#3b3f4e" textLength="286" lengthAdjust="spacing"><tspan font-weight="bold">Membership:</tspan> Premium Member</text>
<text x="486.2" y="587.1" font-family="Liberation Serif" font-size="21" fill="#3b3f4e" textLength="269.5" lengthAdjust="spacing"><tspan font-weight="bold">Reading Preferences:</tspan> Fiction,</text>
<text x="486.2" y="611.5" font-family="Liberation Serif" font-size="21" fill="#3b3f4e" textLength="172.5" lengthAdjust="spacing">Historical Novels…</text>
<rect x="972.10" y="405.90" width="286.50" height="220.70" rx="0" fill="#fff" stroke="#222" stroke-width="1.8" />
<svg x="1024" y="412" width="36" height="25.5" viewBox="0 0 36 26" preserveAspectRatio="none"><path d="M1.2,3.2 L1.2,22.8 L34.8,22.8 L34.8,3.2" fill="none" stroke="#000" stroke-width="2.2"/><rect x="5.6" y="1.6" width="24.8" height="18.2" fill="none" stroke="#000" stroke-width="2.4"/><line x1="18" y1="1.6" x2="18" y2="19.8" stroke="#000" stroke-width="2"/><path d="M14.5,22.8 L15.5,24.8 L20.5,24.8 L21.5,22.8 Z" fill="#000"/><rect x="21.6" y="6.8" width="5.4" height="1.2" fill="#000"/><rect x="21.6" y="9.2" width="5.4" height="1.2" fill="#000"/><rect x="21.6" y="11.6" width="3.6" height="1.2" fill="#000"/></svg>
<text x="1072.5" y="433" font-family="Liberation Serif" font-size="20.5" font-weight="bold" font-style="normal" fill="#3b3f4e" textLength="109.5" lengthAdjust="spacing" >Item Profile</text>
<text x="986.75" y="457.5" font-family="Liberation Serif" font-size="21" fill="#3b3f4e" textLength="225" lengthAdjust="spacing"><tspan font-weight="bold">Unique Item ID:</tspan> B78901</text>
<text x="986.75" y="482.5" font-family="Liberation Serif" font-size="21" fill="#3b3f4e" textLength="210.5" lengthAdjust="spacing"><tspan font-weight="bold">Title:</tspan> <tspan font-style='italic'>The Silent Patient</tspan></text>
<text x="986.75" y="510.5" font-family="Liberation Serif" font-size="21" fill="#3b3f4e" textLength="218" lengthAdjust="spacing"><tspan font-weight="bold">Genre:</tspan> Thriller, Mystery</text>
<text x="986.75" y="535.5" font-family="Liberation Serif" font-size="21" fill="#3b3f4e" textLength="254" lengthAdjust="spacing"><tspan font-weight="bold">Average Rating:</tspan> 4.5 out of 5</text>
<text x="986.75" y="560.5" font-family="Liberation Serif" font-size="21" fill="#3b3f4e" textLength="213.5" lengthAdjust="spacing"><tspan font-weight="bold">Description:</tspan> A gripping</text>
<text x="986.75" y="585.5" font-family="Liberation Serif" font-size="21" fill="#3b3f4e" textLength="251.5" lengthAdjust="spacing">psychological thriller about a</text>
<text x="986.75" y="610" font-family="Liberation Serif" font-size="21" fill="#3b3f4e" textLength="231" lengthAdjust="spacing">woman’s act of violence…</text>
<line x1="788.3" y1="425.8" x2="806.0" y2="425.8" stroke="#000" stroke-width="1.5"/>
<polygon points="812.00,425.80 802.00,420.30 805.50,425.80 802.00,431.30" fill="#000"/>
<line x1="971.2" y1="423.8" x2="952.5" y2="423.8" stroke="#000" stroke-width="1.5"/>
<polygon points="946.50,423.80 956.50,418.30 953.00,423.80 956.50,429.30" fill="#000"/>
<rect x="812.90" y="406.70" width="132.70" height="38.40" rx="0" fill="#fff" stroke="#222" stroke-width="1.8" />
<svg x="828.3" y="408" width="33.700000000000045" height="32.69999999999999" viewBox="0 0 34 33" preserveAspectRatio="none"><circle cx="17.8" cy="2.3" r="2.1" fill="#000"/><rect x="17.1" y="3" width="1.4" height="3" fill="#000"/><rect x="11" y="5" width="14" height="8" rx="2" fill="#000"/><ellipse cx="14.9" cy="9" rx="1.5" ry="1.2" fill="#999"/><ellipse cx="20.6" cy="9" rx="1.5" ry="1.2" fill="#999"/><rect x="9.2" y="14.2" width="16.9" height="11.2" fill="#000"/><path d="M12,19.6 L15,19.6 L16.3,16.8 L17.8,22.2 L19.5,18.4 L20.8,20.4 L23.9,19.4" fill="none" stroke="#fff" stroke-width="0.75"/><path d="M9.4,17 L3.9,17 L3.9,12" fill="none" stroke="#000" stroke-width="2.4"/><path d="M1.4,9.3 Q1.8,12.6 3.9,12.6 Q6,12.6 6.5,9.3" fill="none" stroke="#000" stroke-width="2.2" stroke-linecap="round"/><path d="M25.9,16.6 L29.6,16.6 Q31,16.8 31,18.6 L31,21.2" fill="none" stroke="#000" stroke-width="2.4"/><path d="M28.6,25 Q29,21.9 31,21.9 Q33,21.9 33.4,25" fill="none" stroke="#000" stroke-width="2.2" stroke-linecap="round"/><rect x="5" y="26.9" width="25.7" height="5.8" rx="2.9" fill="#000"/><ellipse cx="9.9" cy="29.8" rx="1.9" ry="1.3" fill="#fff"/><ellipse cx="17.8" cy="29.8" rx="1.9" ry="1.3" fill="#fff"/><ellipse cx="25.6" cy="29.8" rx="1.9" ry="1.3" fill="#fff"/></svg>
<text x="875" y="433.5" font-family="Liberation Serif" font-size="20.5" font-weight="bold" font-style="normal" fill="#3b3f4e" textLength="47.5" lengthAdjust="spacing" >LLM</text>
<line x1="875" y1="446" x2="875" y2="455.6" stroke="#000" stroke-width="1.4"/>
<polygon points="875.00,461.00 870.05,452.00 875.00,455.15 879.95,452.00" fill="#000"/>
<rect x="805.10" y="463.80" width="149.50" height="76.50" rx="0" fill="#fff" stroke="#222" stroke-width="1.8" />
<text x="819.4" y="486.2" font-family="Liberation Serif" font-size="17.2" font-weight="normal" font-style="normal" fill="#000" textLength="120.8" lengthAdjust="spacing" >…The user is not</text>
<text x="818.8" y="508.9" font-family="Liberation Serif" font-size="17.2" font-weight="normal" font-style="normal" fill="#000" textLength="111.9" lengthAdjust="spacing" >interested in the</text>
<text x="818.8" y="529.1" font-family="Liberation Serif" font-size="17.2" font-weight="normal" font-style="normal" fill="#000" textLength="101.6" lengthAdjust="spacing" >Thriller series.</text>
<line x1="830.7" y1="541.2" x2="830.7" y2="554.3000000000001" stroke="#000" stroke-width="1.4"/>
<polygon points="830.70,559.70 825.75,550.70 830.70,553.85 835.65,550.70" fill="#000"/>
<line x1="931.2" y1="541.2" x2="931.2" y2="554.3000000000001" stroke="#000" stroke-width="1.4"/>
<polygon points="931.20,559.70 926.25,550.70 931.20,553.85 936.15,550.70" fill="#000"/>
<rect x="816.70" y="562.90" width="132.80" height="38.40" rx="0" fill="#fff" stroke="#222" stroke-width="1.8" />
<svg x="831.9" y="564.5" width="33.60000000000002" height="31.899999999999977" viewBox="0 0 34 33" preserveAspectRatio="none"><circle cx="17.8" cy="2.3" r="2.1" fill="#000"/><rect x="17.1" y="3" width="1.4" height="3" fill="#000"/><rect x="11" y="5" width="14" height="8" rx="2" fill="#000"/><ellipse cx="14.9" cy="9" rx="1.5" ry="1.2" fill="#999"/><ellipse cx="20.6" cy="9" rx="1.5" ry="1.2" fill="#999"/><rect x="9.2" y="14.2" width="16.9" height="11.2" fill="#000"/><path d="M12,19.6 L15,19.6 L16.3,16.8 L17.8,22.2 L19.5,18.4 L20.8,20.4 L23.9,19.4" fill="none" stroke="#fff" stroke-width="0.75"/><path d="M9.4,17 L3.9,17 L3.9,12" fill="none" stroke="#000" stroke-width="2.4"/><path d="M1.4,9.3 Q1.8,12.6 3.9,12.6 Q6,12.6 6.5,9.3" fill="none" stroke="#000" stroke-width="2.2" stroke-linecap="round"/><path d="M25.9,16.6 L29.6,16.6 Q31,16.8 31,18.6 L31,21.2" fill="none" stroke="#000" stroke-width="2.4"/><path d="M28.6,25 Q29,21.9 31,21.9 Q33,21.9 33.4,25" fill="none" stroke="#000" stroke-width="2.2" stroke-linecap="round"/><rect x="5" y="26.9" width="25.7" height="5.8" rx="2.9" fill="#000"/><ellipse cx="9.9" cy="29.8" rx="1.9" ry="1.3" fill="#fff"/><ellipse cx="17.8" cy="29.8" rx="1.9" ry="1.3" fill="#fff"/><ellipse cx="25.6" cy="29.8" rx="1.9" ry="1.3" fill="#fff"/></svg>
<text x="890.3" y="589.7" font-family="Liberation Serif" font-size="20.5" font-weight="bold" font-style="normal" fill="#3b3f4e" textLength="25.7" lengthAdjust="spacing" >RS</text>
<line x1="878.75" y1="602.2" x2="878.75" y2="612.4" stroke="#000" stroke-width="1.4"/>
<polygon points="878.75,617.80 873.80,608.80 878.75,611.95 883.70,608.80" fill="#000"/>
<ellipse cx="879.1" cy="637.8" rx="41.5" ry="17.3" fill="#fff" stroke="#000" stroke-width="1.8"/>
<text x="852.3" y="643" font-family="Liberation Serif" font-size="20.5" font-weight="normal" font-style="normal" fill="#000" textLength="61.3" lengthAdjust="spacing" >Dislike</text>
<rect x="471.90" y="713.60" width="787.50" height="239.00" rx="0" fill="#fff" stroke="#222" stroke-width="1.8" />
<text x="486" y="740.7" font-family="Liberation Serif" font-size="21" fill="#3b3f4e" textLength="744" lengthAdjust="spacing"><tspan font-weight="bold">Task Instruction:</tspan> <tspan fill="#2f4f92">You are a recommender</tspan>. Based on the user’s profile and behaviors,</text>
<text x="486" y="766" font-family="Liberation Serif" font-size="21" fill="#3b3f4e" textLength="754.6" lengthAdjust="spacing">recommending a suitable book that she will like. <tspan fill="#2f4f92">Output the title of recommended book.</tspan></text>
<text x="486" y="797.8" font-family="Liberation Serif" font-size="21" fill="#3b3f4e" textLength="713" lengthAdjust="spacing"><tspan font-weight="bold">User Prompt:</tspan> The user’s ID is U12345, age is 29, location… Her r<tspan fill="#000">ecently reading</tspan></text>
<text x="486" y="822.3" font-family="Liberation Serif" font-size="21" fill="#3b3f4e" textLength="701.8" lengthAdjust="spacing"><tspan fill="#000">books:</tspan> <tspan font-style="italic">The Night Circus</tspan> by Erin Morgenstern <tspan font-style="italic">The Da Vinci Code</tspan> by Dan Brown.</text>
<text x="486" y="855.6" font-family="Liberation Serif" font-size="21" fill="#3b3f4e" textLength="755" lengthAdjust="spacing"><tspan font-weight="bold">Item Prompt:</tspan> <tspan fill="#2f4f92">Candidate 1</tspan>: Title: <tspan font-style="italic">The Silent Patient</tspan>. Genre: Thriller, Mystery. Average</text>
<text x="486" y="880.4" font-family="Liberation Serif" font-size="21" fill="#3b3f4e" textLength="761" lengthAdjust="spacing">Rating: 4.5 out of 5. The book describes a gripping psychological thriller… <tspan fill="#2f4f92">Candidate 2:</tspan></text>
<text x="486" y="905" font-family="Liberation Serif" font-size="21" fill="#3b3f4e" textLength="436" lengthAdjust="spacing"><tspan font-style="italic">The Three-Body Problem.</tspan> Genre: Fiction novel. …</text>
<text x="486" y="936.7" font-family="Liberation Serif" font-size="21" fill="#3b3f4e" textLength="301" lengthAdjust="spacing"><tspan font-weight="bold">Output:</tspan> <tspan font-style="italic">The Three-Body Problem.</tspan></text>
<text x="37.0" y="1095.7" font-family="Liberation Serif" font-size="27" font-weight="bold" textLength="54.9" lengthAdjust="spacingAndGlyphs">Fig.</text>
<text x="103.3" y="1095.7" font-family="Liberation Serif" font-size="27" font-weight="bold" textLength="17.1" lengthAdjust="spacingAndGlyphs">2</text>
<text x="141.6" y="1095.7" font-family="Liberation Serif" font-size="27" font-weight="normal" textLength="73.2" lengthAdjust="spacingAndGlyphs">Three</text>
<text x="224.79999999999998" y="1095.7" font-family="Liberation Serif" font-size="27" font-weight="normal" textLength="174.3" lengthAdjust="spacingAndGlyphs">representative</text>
<text x="410.6" y="1095.7" font-family="Liberation Serif" font-size="27" font-weight="normal" textLength="112.8" lengthAdjust="spacingAndGlyphs">modeling</text>
<text x="534.6" y="1095.7" font-family="Liberation Serif" font-size="27" font-weight="normal" textLength="129.8" lengthAdjust="spacingAndGlyphs">paradigms</text>
<text x="675.5" y="1095.7" font-family="Liberation Serif" font-size="27" font-weight="normal" textLength="22.9" lengthAdjust="spacingAndGlyphs">of</text>
<text x="708.9" y="1095.7" font-family="Liberation Serif" font-size="27" font-weight="normal" textLength="39.2" lengthAdjust="spacingAndGlyphs">the</text>
<text x="758.1" y="1095.7" font-family="Liberation Serif" font-size="27" font-weight="normal" textLength="101.6" lengthAdjust="spacingAndGlyphs">research</text>
<text x="870.2" y="1095.7" font-family="Liberation Serif" font-size="27" font-weight="normal" textLength="35.2" lengthAdjust="spacingAndGlyphs">for</text>
<text x="915.4" y="1095.7" font-family="Liberation Serif" font-size="27" font-weight="normal" textLength="61.3" lengthAdjust="spacingAndGlyphs">large</text>
<text x="986.6" y="1095.7" font-family="Liberation Serif" font-size="27" font-weight="normal" textLength="109.1" lengthAdjust="spacingAndGlyphs">language</text>
<text x="1106.1999999999998" y="1095.7" font-family="Liberation Serif" font-size="27" font-weight="normal" textLength="86.8" lengthAdjust="spacingAndGlyphs">models</text>
<text x="1203.0" y="1095.7" font-family="Liberation Serif" font-size="27" font-weight="normal" textLength="29.4" lengthAdjust="spacingAndGlyphs">on</text>
<text x="1242.3999999999999" y="1095.7" font-family="Liberation Serif" font-size="27" font-weight="normal" textLength="51.4" lengthAdjust="spacingAndGlyphs">rec-</text>
<text x="37.0" y="1127.9" font-family="Liberation Serif" font-size="27" textLength="180.2" lengthAdjust="spacingAndGlyphs">ommendation</text>
<text x="226.29999999999998" y="1127.9" font-family="Liberation Serif" font-size="27" textLength="93.5" lengthAdjust="spacingAndGlyphs">systems.</text>
<path transform="translate(1026.2,1096.9)" d="M1,5 L6,5 M3.5,1 L3.5,16 L2.5,15 M1,12 L6,9 M8,2 L17,2 L17,6 L8,6 M8,2 L8,10 Q8,15 6.5,17 M12.5,7 L12.5,17 M9.5,8 L9.5,12 L15.5,12 L15.5,8 M9,13 L9,17 L16.5,17 L16.5,13" fill="none" stroke="#666" stroke-width="1.8"/>
<path transform="translate(1025.5,1096.2)" d="M1,5 L6,5 M3.5,1 L3.5,16 L2.5,15 M1,12 L6,9 M8,2 L17,2 L17,6 L8,6 M8,2 L8,10 Q8,15 6.5,17 M12.5,7 L12.5,17 M9.5,8 L9.5,12 L15.5,12 L15.5,8 M9,13 L9,17 L16.5,17 L16.5,13" fill="none" stroke="#dcdcdc" stroke-width="1.4"/>
<path transform="translate(1046.2,1096.9)" d="M9,1 L1,8 M9,1 L17,8 M5,8 L13,8 M3,12 L15,12 M9,8 L9,16 M1,16.5 L17,16.5 M5.5,13 L6.5,15 M12.5,13 L11.5,15" fill="none" stroke="#666" stroke-width="1.8"/>
<path transform="translate(1045.5,1096.2)" d="M9,1 L1,8 M9,1 L17,8 M5,8 L13,8 M3,12 L15,12 M9,8 L9,16 M1,16.5 L17,16.5 M5.5,13 L6.5,15 M12.5,13 L11.5,15" fill="none" stroke="#dcdcdc" stroke-width="1.4"/>
<path transform="translate(1066.2,1096.9)" d="M1,5 L6,5 M3.5,1 L3.5,16 L2.5,15 M1,12 L6,9 M8,5 L17,5 M12.5,1 L12.5,9 M9,9 L15.5,9 Q13,14 8,17 M10,11 Q13,15 17,17" fill="none" stroke="#666" stroke-width="1.8"/>
<path transform="translate(1065.5,1096.2)" d="M1,5 L6,5 M3.5,1 L3.5,16 L2.5,15 M1,12 L6,9 M8,5 L17,5 M12.5,1 L12.5,9 M9,9 L15.5,9 Q13,14 8,17 M10,11 Q13,15 17,17" fill="none" stroke="#dcdcdc" stroke-width="1.4"/>
<path transform="translate(1086.2,1096.9)" d="M1,6 L17,6 M9,1 L9,17 M8.5,6 Q5,12 1,15 M9.5,6 Q13,12 17,15 M12,2 L13.5,4" fill="none" stroke="#666" stroke-width="1.8"/>
<path transform="translate(1085.5,1096.2)" d="M1,6 L17,6 M9,1 L9,17 M8.5,6 Q5,12 1,15 M9.5,6 Q13,12 17,15 M12,2 L13.5,4" fill="none" stroke="#dcdcdc" stroke-width="1.4"/>
<path transform="translate(1106.2,1096.9)" d="M3,1 L4,2.5 M1,5 L6,5 Q4,9 1,12 M3.5,8 L3.5,17 M4,10 L6,12 M8,8 L16,8 M12,3 L12,16 M7.5,16.5 L17,16.5" fill="none" stroke="#666" stroke-width="1.8"/>
<path transform="translate(1105.5,1096.2)" d="M3,1 L4,2.5 M1,5 L6,5 Q4,9 1,12 M3.5,8 L3.5,17 M4,10 L6,12 M8,8 L16,8 M12,3 L12,16 M7.5,16.5 L17,16.5" fill="none" stroke="#dcdcdc" stroke-width="1.4"/>
<path transform="translate(1126.2,1096.9)" d="M17,1.5 L1.5,1.5 L1.5,16.5 L17.5,16.5 M5,5 L14,14 M14,5 L5,14" fill="none" stroke="#666" stroke-width="1.8"/>
<path transform="translate(1125.5,1096.2)" d="M17,1.5 L1.5,1.5 L1.5,16.5 L17.5,16.5 M5,5 L14,14 M14,5 L5,14" fill="none" stroke="#dcdcdc" stroke-width="1.4"/>
<text x="1150.6" y="1111.5" font-family="Liberation Sans" font-size="20" fill="#6a6a6a" textLength="18" lengthAdjust="spacingAndGlyphs">@</text>
<text x="1149.9" y="1110.8" font-family="Liberation Sans" font-size="20" fill="#d8d8d8" textLength="18" lengthAdjust="spacingAndGlyphs">@</text>
<path transform="translate(1175.7,1096.9)" d="M9,0.5 L9,2.5 M1,3 L17,3 M4,5.5 L14,5.5 L14,10 L4,10 Z M9,10 L9,16 L7.5,17 M5,12 L2,16 M13,12 L16,16" fill="none" stroke="#666" stroke-width="1.8"/>
<path transform="translate(1175.0,1096.2)" d="M9,0.5 L9,2.5 M1,3 L17,3 M4,5.5 L14,5.5 L14,10 L4,10 Z M9,10 L9,16 L7.5,17 M5,12 L2,16 M13,12 L16,16" fill="none" stroke="#dcdcdc" stroke-width="1.4"/>
<path transform="translate(1195.3,1096.9)" d="M1,3.5 L17,3.5 M8,0.5 L4,9 L16,9 M10,6 L10,16 L8,17 M6,12 L3,16 M14,12 L17,16" fill="none" stroke="#666" stroke-width="1.8"/>
<path transform="translate(1194.6,1096.2)" d="M1,3.5 L17,3.5 M8,0.5 L4,9 L16,9 M10,6 L10,16 L8,17 M6,12 L3,16 M14,12 L17,16" fill="none" stroke="#dcdcdc" stroke-width="1.4"/>
<path transform="translate(1214.9,1096.9)" d="M3,2.5 L15,2.5 M1,7 L17,7 M8,7 L3,15 L15,14 M12,11 L16,16" fill="none" stroke="#666" stroke-width="1.8"/>
<path transform="translate(1214.2,1096.2)" d="M3,2.5 L15,2.5 M1,7 L17,7 M8,7 L3,15 L15,14 M12,11 L16,16" fill="none" stroke="#dcdcdc" stroke-width="1.4"/>
<path transform="translate(1234.5,1096.9)" d="M2,2.5 L16,2.5 M1,8.5 L17,8.5 M6,2.5 L6,10 Q5.5,15 2,17 M12,2.5 L12,17" fill="none" stroke="#666" stroke-width="1.8"/>
<path transform="translate(1233.8,1096.2)" d="M2,2.5 L16,2.5 M1,8.5 L17,8.5 M6,2.5 L6,10 Q5.5,15 2,17 M12,2.5 L12,17" fill="none" stroke="#dcdcdc" stroke-width="1.4"/>
<path transform="translate(1254.1000000000001,1096.9)" d="M2,2 L3,6 M1,6 L17,6 M12,1 L14,3 M7,1 L6,10 Q4,15 1,17 M6,10 L14,10 Q11,15 6,17 M8.5,12 Q12,16 17,17" fill="none" stroke="#666" stroke-width="1.8"/>
<path transform="translate(1253.4,1096.2)" d="M2,2 L3,6 M1,6 L17,6 M12,1 L14,3 M7,1 L6,10 Q4,15 1,17 M6,10 L14,10 Q11,15 6,17 M8.5,12 Q12,16 17,17" fill="none" stroke="#dcdcdc" stroke-width="1.4"/>
<path transform="translate(1273.7,1096.9)" d="M3,4 L13,4 M8,1 L8,7.5 M1,7.5 L17,7.5 M15,3 L4,12 M6,10 L14,10 L14,17 L6,17 Z M6,13.5 L14,13.5" fill="none" stroke="#666" stroke-width="1.8"/>
<path transform="translate(1273.0,1096.2)" d="M3,4 L13,4 M8,1 L8,7.5 M1,7.5 L17,7.5 M15,3 L4,12 M6,10 L14,10 L14,17 L6,17 Z M6,13.5 L14,13.5" fill="none" stroke="#dcdcdc" stroke-width="1.4"/>
</svg></body></html>
